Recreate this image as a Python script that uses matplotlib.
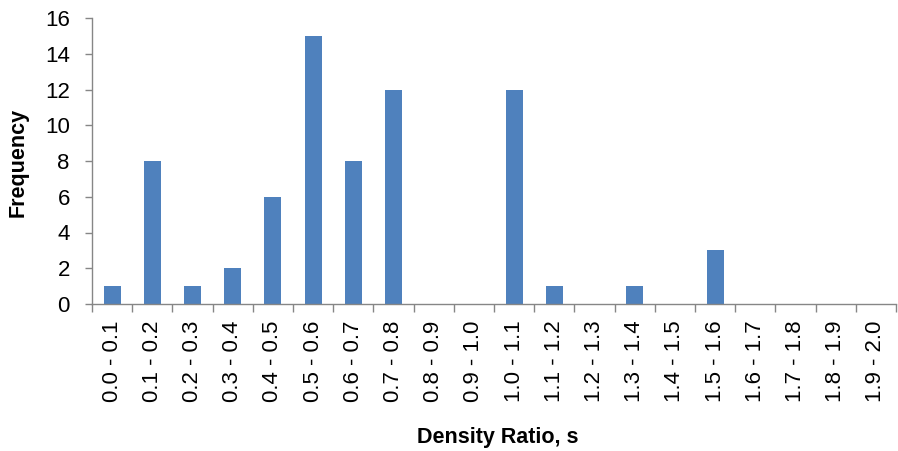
import matplotlib
matplotlib.use('Agg')
import matplotlib.pyplot as plt
import numpy as np

plt.rcParams['font.family'] = ['Liberation Sans', 'DejaVu Sans']

# bins of the density ratio and how many samples fall in each
bins = ['0.0 - 0.1', '0.1 - 0.2', '0.2 - 0.3', '0.3 - 0.4', '0.4 - 0.5',
        '0.5 - 0.6', '0.6 - 0.7', '0.7 - 0.8', '0.8 - 0.9', '0.9 - 1.0',
        '1.0 - 1.1', '1.1 - 1.2', '1.2 - 1.3', '1.3 - 1.4', '1.4 - 1.5',
        '1.5 - 1.6', '1.6 - 1.7', '1.7 - 1.8', '1.8 - 1.9', '1.9 - 2.0']
frequency = [1, 8, 1, 2, 6, 15, 8, 12, 0, 0, 12, 1, 0, 1, 0, 3, 0, 0, 0, 0]
y_ticks = [0, 2, 4, 6, 8, 10, 12, 14, 16]

axis_grey = '#868686'

fig = plt.figure(figsize=(8.98, 4.51), dpi=100)
ax = fig.add_axes([92 / 898, 147 / 451, 804 / 898, 286 / 451])

x = np.arange(len(bins))
ax.bar(x, frequency, width=0.42, color='#4F81BD')

ax.set_xlim(-0.5, len(bins) - 0.5)
ax.set_ylim(0, 16)

# labels centred on bars, tick marks between categories (Excel style)
ax.set_xticks(x)
ax.set_xticklabels(bins, rotation=90, fontsize=16)
ax.set_xticks(np.arange(len(bins) + 1) - 0.5, minor=True)
ax.tick_params(axis='x', which='major', length=0, pad=12)
ax.tick_params(axis='x', which='minor', length=6, width=1, color=axis_grey, direction='out')

ax.set_yticks(y_ticks)
ax.set_yticklabels([str(v) for v in y_ticks], fontsize=16)
ax.tick_params(axis='y', length=5, width=1, color=axis_grey, pad=11, direction='out')

for side in ['top', 'right']:
    ax.spines[side].set_visible(False)
for side in ['left', 'bottom']:
    ax.spines[side].set_color(axis_grey)
    ax.spines[side].set_linewidth(1)

# axis titles placed in figure pixels to match the original layout
fig.text(18 / 898, 1 - 162 / 451, 'Frequency', fontsize=15.5, fontweight='bold',
         rotation=90, ha='center', va='center')
fig.text(498 / 898, 1 - 437 / 451, 'Density Ratio, s', fontsize=15.5, fontweight='bold',
         ha='center', va='center')

fig.savefig('out.png', dpi=100)
